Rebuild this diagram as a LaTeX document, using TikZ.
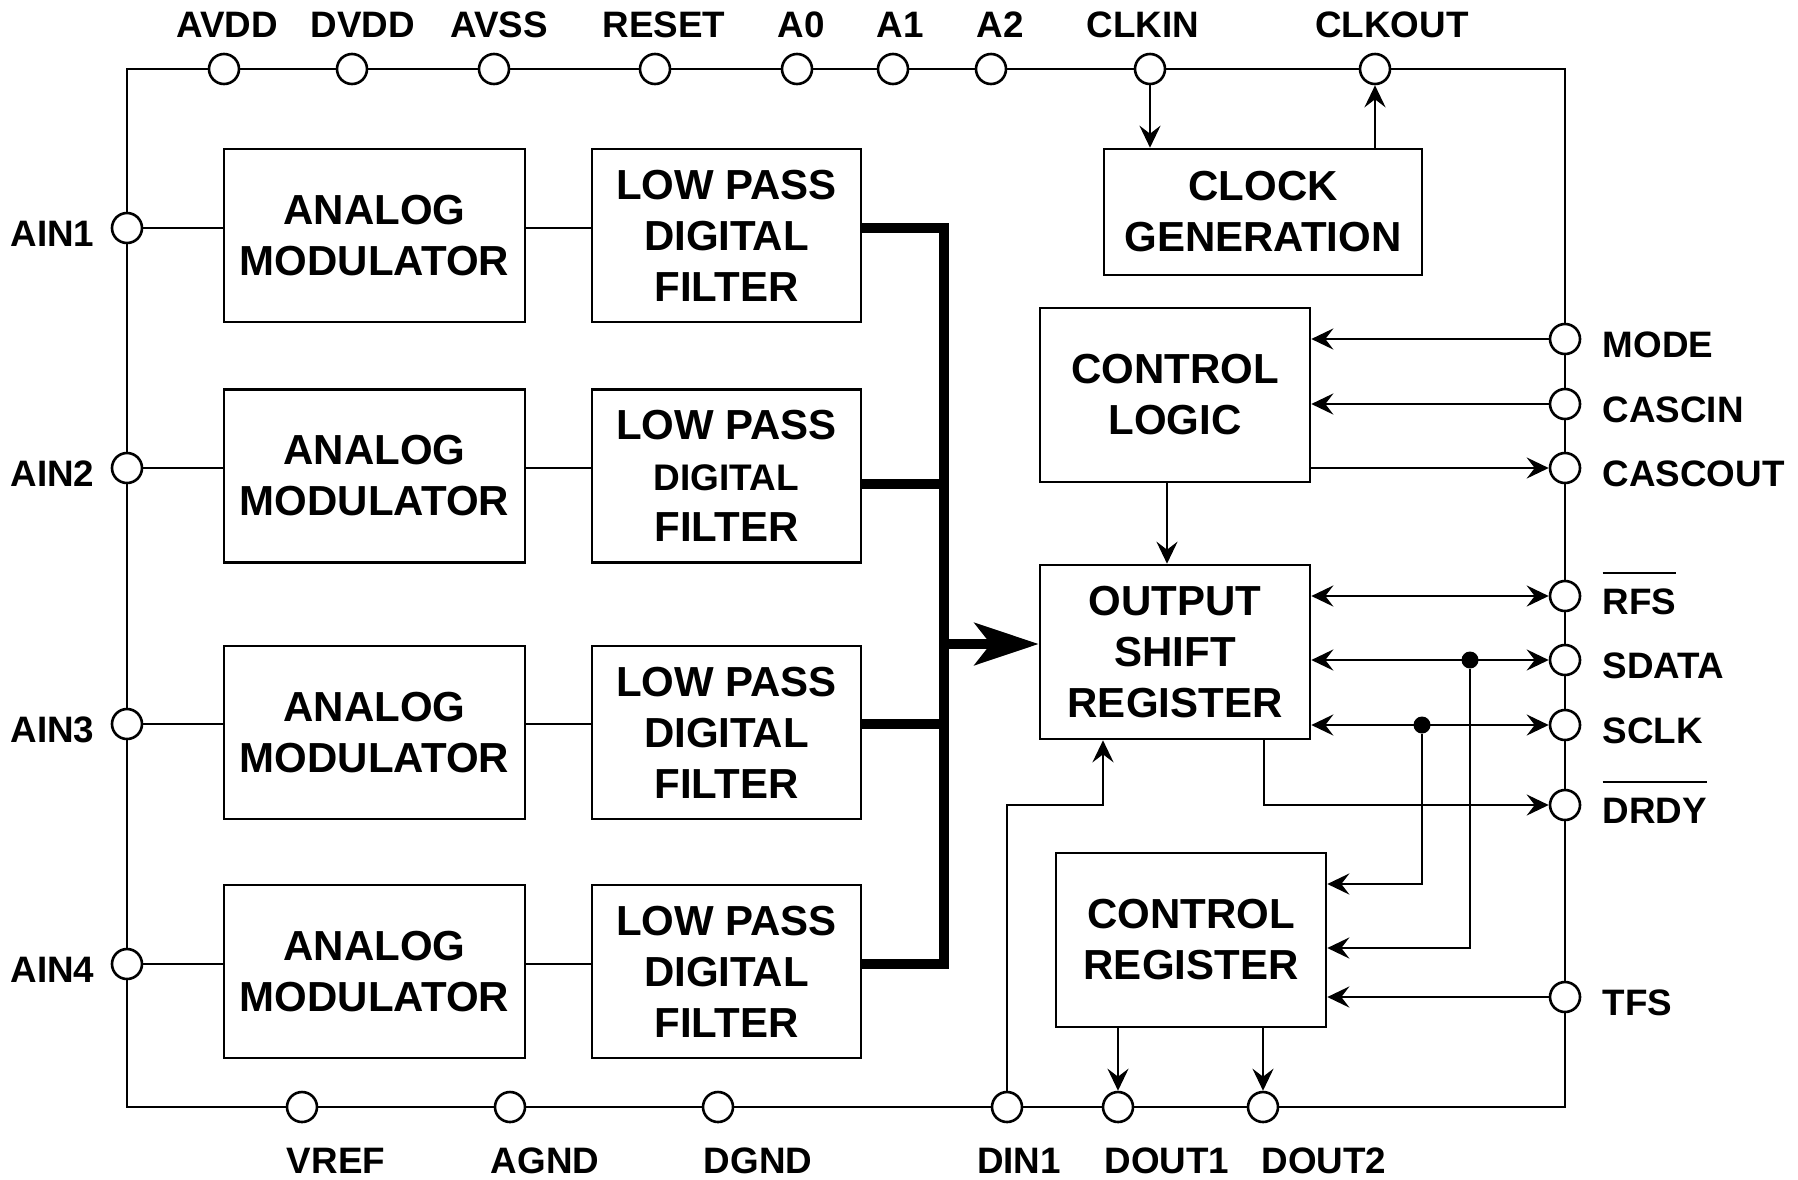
\documentclass[tikz,border=0pt]{standalone}
\usepackage{fontspec}
\setmainfont{Liberation Sans}
\usetikzlibrary{arrows.meta, positioning, calc}
\newlength{\barlen}
\newcommand{\barsig}[1]{\settowidth{\barlen}{#1}\rlap{\rule[1.1em]{\barlen}{1pt}}#1}
\tikzset{
  block/.style={
    rectangle, draw=black, fill=white, line width=1.3pt,
    align=center, inner sep=0pt,
    font=\bfseries\fontsize{21}{25.5}\selectfont
  },
  modbox/.style={block, minimum width=150.5pt, minimum height=86.5pt},
  filterbox/.style={block, minimum width=134.5pt, minimum height=86.5pt},
  ctrlbox/.style={block, minimum width=135pt, minimum height=87pt},
  terminal/.style={circle, draw=black, fill=white, line width=1.3pt,
    minimum size=15pt, inner sep=0pt},
  padlabel/.style={font=\bfseries\fontsize{18.4}{22}\selectfont, inner sep=0pt},
  frame/.style={line width=1.2pt},
  wire/.style={line width=1.3pt},
  arrow/.style={-{Stealth[length=11pt,width=10.5pt,inset=4pt]}, line width=1.4pt},
  dblarrow/.style={{Stealth[length=11pt,width=10.5pt,inset=4pt]}-{Stealth[length=11pt,width=10.5pt,inset=4pt]}, line width=1.4pt},
  bus/.style={line width=5pt, line join=miter},
  bigarrow/.style={-{Stealth[length=32pt,width=21pt,inset=8pt]}, line width=5pt},
  junction/.style={circle, fill=black, minimum size=8.5pt, inner sep=0pt},
}
\begin{document}
\begin{tikzpicture}[x=0.5pt, y=-0.5pt]
  \useasboundingbox (0,0) rectangle (1798,1179);

  % package outline
  \draw[frame] (127,69) rectangle (1565,1107);

  % analog channels
  \node[modbox] (mod1) at (374.5,235.5) {ANALOG\\MODULATOR};
  \node[modbox] (mod2) at (374.5,476) {ANALOG\\MODULATOR};
  \node[modbox] (mod3) at (374.5,732.5) {ANALOG\\MODULATOR};
  \node[modbox] (mod4) at (374.5,971.5) {ANALOG\\MODULATOR};
  \node[filterbox] (lpf1) at (726.5,235.5) {LOW PASS\\DIGITAL\\FILTER};
  \node[filterbox] (lpf2) at (726.5,476)
    {LOW PASS\\{\fontsize{18.5}{22}\selectfont DIGITAL}\\FILTER};
  \node[filterbox] (lpf3) at (726.5,732.5) {LOW PASS\\DIGITAL\\FILTER};
  \node[filterbox] (lpf4) at (726.5,971.5) {LOW PASS\\DIGITAL\\FILTER};

  % digital side
  \node[block, minimum width=159pt, minimum height=63pt] (clkgen) at (1263,212)
    {CLOCK\\GENERATION};
  \node[ctrlbox] (ctrllogic) at (1175,395) {CONTROL\\LOGIC};
  \node[ctrlbox] (osr) at (1175,652) {OUTPUT\\SHIFT\\REGISTER};
  \node[ctrlbox] (ctrlreg) at (1191,940) {CONTROL\\REGISTER};

  % pads, top
  \node[terminal] (avdd) at (224,69) {};
  \node[terminal] (dvdd) at (352,69) {};
  \node[terminal] (avss) at (494,69) {};
  \node[terminal] (reset) at (655,69) {};
  \node[terminal] (a0) at (797,69) {};
  \node[terminal] (a1) at (893,69) {};
  \node[terminal] (a2) at (991,69) {};
  \node[terminal] (clkin) at (1150,69) {};
  \node[terminal] (clkout) at (1375,69) {};
  % pads, left
  \node[terminal] (ain1) at (127,228) {};
  \node[terminal] (ain2) at (127,468) {};
  \node[terminal] (ain3) at (127,724) {};
  \node[terminal] (ain4) at (127,964) {};
  % pads, right
  \node[terminal] (mode) at (1565,339) {};
  \node[terminal] (cascin) at (1565,404) {};
  \node[terminal] (cascout) at (1565,468) {};
  \node[terminal] (rfs) at (1565,596) {};
  \node[terminal] (sdata) at (1565,660) {};
  \node[terminal] (sclk) at (1565,725) {};
  \node[terminal] (drdy) at (1565,805) {};
  \node[terminal] (tfs) at (1565,997) {};
  % pads, bottom
  \node[terminal] (vref) at (302,1107) {};
  \node[terminal] (agnd) at (510,1107) {};
  \node[terminal] (dgnd) at (718,1107) {};
  \node[terminal] (din1) at (1007,1107) {};
  \node[terminal] (dout1) at (1118,1107) {};
  \node[terminal] (dout2) at (1263,1107) {};

  % analog inputs
  \draw[wire] (ain1.east) -- (ain1 -| mod1.west);
  \draw[wire] (ain1 -| mod1.east) -- (ain1 -| lpf1.west);
  \draw[wire] (ain2.east) -- (ain2 -| mod2.west);
  \draw[wire] (ain2 -| mod2.east) -- (ain2 -| lpf2.west);
  \draw[wire] (ain3.east) -- (ain3 -| mod3.west);
  \draw[wire] (ain3 -| mod3.east) -- (ain3 -| lpf3.west);
  \draw[wire] (ain4.east) -- (ain4 -| mod4.west);
  \draw[wire] (ain4 -| mod4.east) -- (ain4 -| lpf4.west);

  % data bus
  \coordinate (bus) at (944,644);
  \draw[bus] (lpf1.east |- ain1) -| (bus |- ain4) -- (lpf4.east |- ain4);
  \draw[bus] ([yshift=-4pt]lpf2.east) -| (bus);
  \draw[bus] (lpf3.east |- ain3) -| (bus);
  \draw[bigarrow] (bus) -- (bus -| osr.west);

  % clock
  \draw[arrow] (clkin.south) -- (clkin |- clkgen.north);
  \draw[arrow] (clkout |- clkgen.north) -- (clkout.south);

  % control logic
  \draw[arrow] (mode.west) -- (mode -| ctrllogic.east);
  \draw[arrow] (cascin.west) -- (cascin -| ctrllogic.east);
  \draw[arrow] (cascout -| ctrllogic.east) -- (cascout.west);
  \draw[arrow] ([xshift=-4pt]ctrllogic.south) -- ([xshift=-4pt]osr.north);

  % serial interface
  \draw[dblarrow] (rfs -| osr.east) -- (rfs.west);
  \draw[dblarrow] (sdata -| osr.east) -- (sdata.west);
  \draw[dblarrow] (sclk -| osr.east) -- (sclk.west);
  \node[junction] (jsdata) at ($(sdata)+(-95,0)$) {};
  \node[junction] (jsclk) at ($(sclk)+(-143,0)$) {};
  \draw[arrow] ([xshift=44.5pt]osr.south) |- (drdy.west);
  \coordinate (dinup) at ([xshift=-36pt]osr.south);
  \draw[arrow] (din1.north) |- (dinup |- drdy) -- (dinup);

  % control register
  \draw[arrow] (jsclk) |- ([yshift=28pt]ctrlreg.east);
  \draw[arrow] (jsdata) |- ([yshift=-4pt]ctrlreg.east);
  \draw[arrow] (tfs.west) -- (tfs -| ctrlreg.east);
  \draw[arrow] (dout1 |- ctrlreg.south) -- (dout1.north);
  \draw[arrow] (dout2 |- ctrlreg.south) -- (dout2.north);

  % pad labels
  \node[padlabel, anchor=base] (lavdd) at (227,37) {AVDD};
  \node[padlabel, anchor=base] (ldvdd) at (363,37) {DVDD};
  \node[padlabel, anchor=base] (lavss) at (499,37) {AVSS};
  \node[padlabel, anchor=base] (lreset) at (664,37) {RESET};
  \node[padlabel, anchor=base] (la0) at (801,37) {A0};
  \node[padlabel, anchor=base] (la1) at (900,37) {A1};
  \node[padlabel, anchor=base] (la2) at (1000,37) {A2};
  \node[padlabel, anchor=base] (lclkin) at (1143,37) {CLKIN};
  \node[padlabel, anchor=base] (lclkout) at (1392,37) {CLKOUT};

  \node[padlabel, anchor=base east] (lain1) at ([xshift=-8pt,yshift=-9pt]ain1.west) {AIN1};
  \node[padlabel, anchor=base east] (lain2) at ([xshift=-8pt,yshift=-9pt]ain2.west) {AIN2};
  \node[padlabel, anchor=base east] (lain3) at ([xshift=-8pt,yshift=-9pt]ain3.west) {AIN3};
  \node[padlabel, anchor=base east] (lain4) at ([xshift=-8pt,yshift=-9pt]ain4.west) {AIN4};

  \node[padlabel, anchor=base west] (lmode) at ([xshift=10.5pt,yshift=-9pt]mode.east) {MODE};
  \node[padlabel, anchor=base west] (lcascin) at ([xshift=10.5pt,yshift=-9pt]cascin.east) {CASCIN};
  \node[padlabel, anchor=base west] (lcascout) at ([xshift=10.5pt,yshift=-9pt]cascout.east) {CASCOUT};
  \node[padlabel, anchor=base west] (lrfs) at ([xshift=10.5pt,yshift=-9pt]rfs.east) {\barsig{RFS}};
  \node[padlabel, anchor=base west] (lsdata) at ([xshift=10.5pt,yshift=-9pt]sdata.east) {SDATA};
  \node[padlabel, anchor=base west] (lsclk) at ([xshift=10.5pt,yshift=-9pt]sclk.east) {SCLK};
  \node[padlabel, anchor=base west] (ldrdy) at ([xshift=10.5pt,yshift=-9pt]drdy.east) {\barsig{DRDY}};
  \node[padlabel, anchor=base west] (ltfs) at ([xshift=10.5pt,yshift=-9pt]tfs.east) {TFS};

  \node[padlabel, anchor=base] (lvref) at (336,1173) {VREF};
  \node[padlabel, anchor=base] (lagnd) at (545,1173) {AGND};
  \node[padlabel, anchor=base] (ldgnd) at (758,1173) {DGND};
  \node[padlabel, anchor=base] (ldin1) at (1019,1173) {DIN1};
  \node[padlabel, anchor=base] (ldout1) at (1167,1173) {DOUT1};
  \node[padlabel, anchor=base] (ldout2) at (1324,1173) {DOUT2};
\end{tikzpicture}
\end{document}
